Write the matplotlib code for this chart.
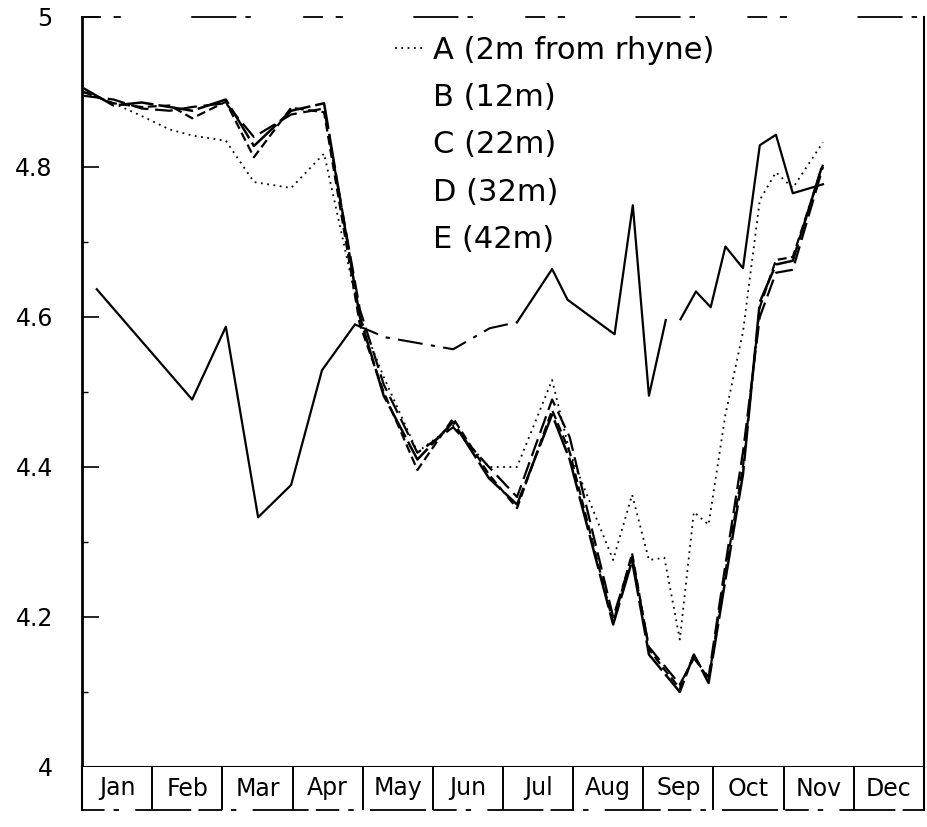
import numpy as np
import matplotlib.pyplot as plt
from matplotlib.lines import Line2D
from matplotlib.ticker import MultipleLocator

plt.rcParams['font.family'] = 'DejaVu Sans'

MONTHS = ['Jan', 'Feb', 'Mar', 'Apr', 'May', 'Jun',
          'Jul', 'Aug', 'Sep', 'Oct', 'Nov', 'Dec']

LABELS = ['A (2m from rhyne)', 'B (12m)', 'C (22m)', 'D (32m)', 'E (42m)']

# sampling dates, in months from 1 January
DATES = [0.02, 0.45, 0.85, 1.25, 1.57, 2.05, 2.45, 2.98, 3.45, 3.96,
         4.30, 4.78, 5.29, 5.80, 6.20, 6.70, 6.95, 7.57, 7.84, 8.08,
         8.30, 8.52, 8.72, 8.93, 9.17, 9.42, 9.66, 9.89, 10.13, 10.56]

PH_A = [4.900, 4.885, 4.868, 4.850, 4.842, 4.835, 4.780, 4.772, 4.818, 4.600,
        4.520, 4.420, 4.455, 4.400, 4.400, 4.516, 4.420, 4.276, 4.363, 4.276,
        4.279, 4.170, 4.340, 4.323, 4.470, 4.580, 4.756, 4.793, 4.772, 4.833]

PH_B = [4.900, 4.885, 4.880, 4.882, 4.865, 4.887, 4.813, 4.879, 4.873, 4.590,
        4.500, 4.396, 4.465, 4.390, 4.345, 4.476, 4.420, 4.192, 4.285, 4.157,
        4.130, 4.105, 4.149, 4.116, 4.260, 4.400, 4.613, 4.676, 4.680, 4.803]

PH_C = [4.895, 4.890, 4.878, 4.875, 4.880, 4.885, 4.840, 4.870, 4.878, 4.610,
        4.510, 4.419, 4.453, 4.400, 4.360, 4.490, 4.440, 4.200, 4.280, 4.160,
        4.135, 4.110, 4.145, 4.120, 4.270, 4.420, 4.600, 4.659, 4.663, 4.800]

PH_D = [4.905, 4.882, 4.886, 4.880, 4.875, 4.890, 4.828, 4.875, 4.885, 4.600,
        4.495, 4.410, 4.460, 4.385, 4.350, 4.470, 4.410, 4.190, 4.275, 4.150,
        4.125, 4.100, 4.150, 4.112, 4.250, 4.390, 4.620, 4.670, 4.675, 4.805]

# site E was sampled on slightly different days and missed one visit in Sep
DATES_E = [0.21, 1.57, 2.05, 2.51, 2.98, 3.42, 3.89, 4.32, 5.29, 5.81,
           6.20, 6.70, 6.92, 7.59, 7.85, 8.08, 8.32, 8.42, 8.53, 8.75,
           8.96, 9.17, 9.42, 9.66, 9.89, 10.13, 10.56]

PH_E = [4.637, 4.490, 4.587, 4.333, 4.376, 4.529, 4.590, 4.573, 4.557, 4.585,
        4.593, 4.664, 4.623, 4.577, 4.749, 4.495, 4.596, np.nan, 4.597, 4.634,
        4.613, 4.694, 4.665, 4.829, 4.843, 4.765, 4.777]

DOTTED = (0, (1, 2.5))

fig = plt.figure(figsize=(9.27, 8.27), dpi=100)
ax = fig.add_axes([82 / 927, 60 / 827, 842 / 927, 750 / 827])

ax.plot(DATES, PH_A, color='k', lw=1.3, ls=DOTTED)
ax.plot(DATES, PH_B, color='k', lw=1.6, ls=(0, (4, 2)))
ax.plot(DATES, PH_C, color='k', lw=1.6, ls=(0, (8, 3)))
ax.plot(DATES, PH_D, color='k', lw=1.8, ls=(0, (14, 2)))

# E: the May-Jul stretch comes out dash-dot on the plotter
ax.plot(DATES_E[:7], PH_E[:7], color='k', lw=1.6, ls='-')
ax.plot(DATES_E[6:11], PH_E[6:11], color='k', lw=1.5, ls=(0, (12, 4, 2, 4)))
ax.plot(DATES_E[10:], PH_E[10:], color='k', lw=1.6, ls='-')

ax.set_xlim(0, 12)
ax.set_ylim(4, 5)
ax.set_xticks([])
ax.set_yticks([4, 4.2, 4.4, 4.6, 4.8, 5])
ax.set_yticklabels(['4', '4.2', '4.4', '4.6', '4.8', '5'])
ax.yaxis.set_minor_locator(MultipleLocator(0.1))
ax.tick_params(axis='y', which='major', direction='in', length=12,
               width=1.2, pad=21, labelsize=17)
ax.tick_params(axis='y', which='minor', direction='in', length=4, width=1.0)

ax.spines['left'].set_linewidth(2.0)
ax.spines['right'].set_linewidth(1.5)
ax.spines['bottom'].set_linewidth(1.5)
ax.spines['top'].set_linewidth(1.3)
ax.spines['top'].set_linestyle((0, (10, 8, 3, 40, 24, 6, 2, 30)))

handles = [Line2D([], [], color='k', lw=1.3, ls=DOTTED)]
handles += [Line2D([], [], ls='none') for _ in LABELS[1:]]
ax.legend(handles, LABELS, loc='upper left', bbox_to_anchor=(0.372, 0.975),
          frameon=False, fontsize=22, handlelength=1.0, handletextpad=0.25,
          labelspacing=0.6, borderpad=0, borderaxespad=0)

# month boxes under the plot
mx = fig.add_axes([82 / 927, 17 / 827, 842 / 927, 43 / 827])
mx.set_xlim(0, 12)
mx.set_ylim(0, 1)
mx.set_xticks([])
mx.set_yticks([])
for i in range(1, 12):
    mx.axvline(i, color='k', lw=1.4)
for i, m in enumerate(MONTHS):
    mx.text(i + 0.5, 0.5, m, ha='center', va='center', fontsize=17)
mx.spines['top'].set_visible(False)
mx.spines['left'].set_linewidth(1.5)
mx.spines['right'].set_linewidth(1.5)
mx.spines['bottom'].set_linewidth(1.3)
mx.spines['bottom'].set_linestyle((0, (12, 6, 2, 10, 30, 5)))

fig.savefig('out.png', dpi=100)
